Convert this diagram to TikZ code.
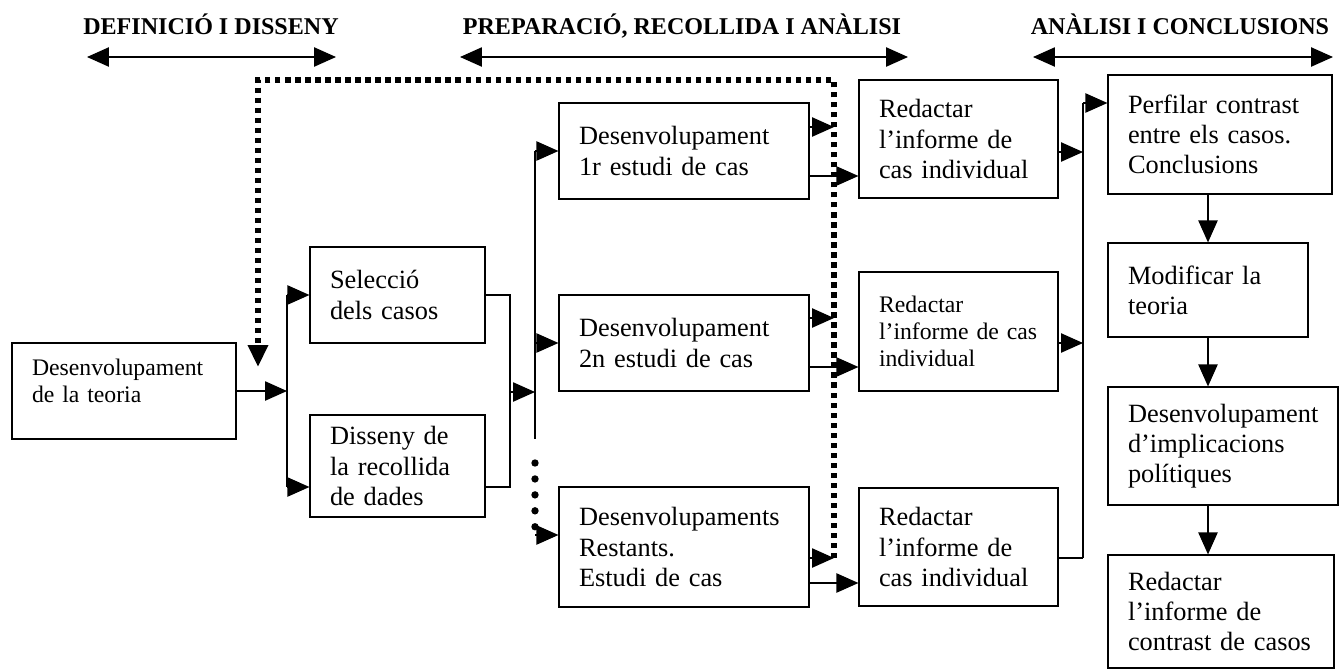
\documentclass[tikz,border=0pt]{standalone}
\usepackage{fontspec}
\setmainfont{Liberation Serif}
\usetikzlibrary{arrows.meta}

\begin{document}
\begin{tikzpicture}[x=0.02cm, y=-0.02cm,
    >={Triangle[length=12.5pt, width=11pt]},
    stage/.style={draw, rectangle, line width=0.7pt, align=left, inner xsep=0.4cm, inner ysep=0pt, font=\fontsize{15}{17.2}\selectfont},
    small/.style={font=\fontsize{13.5}{15.5}\selectfont},
    head/.style={anchor=base, font=\bfseries\fontsize{13.7}{16}\selectfont},
    link/.style={line width=0.7pt},
    back/.style={line width=3pt, dash pattern=on 3pt off 2.7pt},
    dots/.style={line width=4.2pt, line cap=round, dash pattern=on 0pt off 9.07pt}]
  \useasboundingbox (0,0) rectangle (1340,670);

  \node[head] (hdef) at (211,34) {DEFINICIÓ I DISSENY};
  \node[head] (hprep) at (682,34) {PREPARACIÓ, RECOLLIDA I ANÀLISI};
  \node[head] (hconc) at (1180,34) {ANÀLISI I CONCLUSIONS};
  \coordinate (hdefl) at (87,57);
  \coordinate (hdefr) at (336,57);
  \coordinate (hprepl) at (460,57);
  \coordinate (hprepr) at (908,57);
  \coordinate (hconcl) at (1033,57);
  \coordinate (hconcr) at (1333,57);
  \draw[link, <->] (hdefl) -- (hdefr);
  \draw[link, <->] (hprepl) -- (hprepr);
  \draw[link, <->] (hconcl) -- (hconcr);

  \node[stage, small, text width=3.68cm, minimum height=1.92cm] (teoria) at (124,391) {Desenvolupament\\de la teoria\\[-4pt]\mbox{}};
  \node[stage, text width=2.7cm, minimum height=1.92cm] (sel) at (397.5,295) {Selecció\\dels casos};
  \node[stage, text width=2.7cm, minimum height=2.04cm] (dis) at (397.5,466) {Disseny de\\la recollida\\de dades};
  \node[stage, text width=4.2cm, minimum height=1.92cm] (cas1) at (684,151) {Desenvolupament\\1r estudi de cas};
  \node[stage, text width=4.2cm, minimum height=1.92cm] (cas2) at (684,343) {Desenvolupament\\2n estudi de cas};
  \node[stage, text width=4.2cm, minimum height=2.4cm] (cas3) at (684,547) {Desenvolupaments\\Restants.\\Estudi de cas};
  \node[stage, text width=3.18cm, minimum height=2.36cm] (inf1) at (958.5,139) {Redactar\\l’informe de\\cas individual};
  \node[stage, small, text width=3.18cm, minimum height=2.38cm] (inf2) at (958.5,331.5) {Redactar\\l’informe de cas\\individual};
  \node[stage, text width=3.18cm, minimum height=2.36cm] (inf3) at (958.5,547) {Redactar\\l’informe de\\cas individual};
  \node[stage, text width=3.68cm, minimum height=2.38cm] (contr) at (1220,134.5) {Perfilar contrast\\entre els casos.\\Conclusions};
  \node[stage, text width=3.2cm, minimum height=1.88cm] (modif) at (1208,290) {Modificar la\\teoria};
  \node[stage, text width=3.8cm, minimum height=2.36cm] (impl) at (1223,446) {Desenvolupament\\d’implicacions\\polítiques};
  \node[stage, text width=3.72cm, minimum height=2.26cm] (final) at (1221,611.5) {Redactar\\l’informe de\\contrast de casos};

  \coordinate (s1) at (287,391);
  \coordinate (s1t) at (287,295);
  \coordinate (s1b) at (287,487);
  \draw[link, ->] (teoria.east |- s1) -- (s1);
  \draw[link] (s1t) -- (s1b);
  \draw[link, ->] (s1t) -- (sel);
  \draw[link, ->] (s1b) -- (s1b -| dis.west);

  \coordinate (s2) at (510,392);
  \coordinate (s3) at (535,392);
  \draw[link] (sel) -| (s2);
  \draw[link] (s1b -| dis.east) -| (s2);
  \draw[link, ->] (s2) -- (s3);

  \coordinate (s3t) at (535,151);
  \coordinate (s3b) at (535,439);
  \coordinate (d1) at (535,463);
  \coordinate (d2) at (535,528);
  \coordinate (s3d) at (535,535);
  \draw[link] (s3t) -- (s3b);
  \draw[link, ->] (s3t) -- (cas1);
  \draw[link, ->] (s3t |- cas2) -- (cas2);
  \draw[dots] (d1) -- (d2);
  \draw[link, ->] (s3d) -- (s3d -| cas3.west);

  \coordinate (fb1) at (834,127);
  \coordinate (fb2) at (834,318);
  \coordinate (fb3) at (834,558);
  \coordinate (fbtr) at (834,80);
  \coordinate (fbtl) at (258,80);
  \coordinate (fbl) at (258,367);
  \draw[back, ->] (fb3) -- (fbtr) -- (fbtl) -- (fbl);
  \draw[link, ->] (cas1.east |- fb1) -- (fb1);
  \draw[link, ->] (cas2.east |- fb2) -- (fb2);
  \draw[link, ->] (cas3.east |- fb3) -- (fb3);

  \coordinate (o1) at (834,176);
  \coordinate (o2) at (834,367);
  \coordinate (o3) at (834,583);
  \draw[link, ->] (cas1.east |- o1) -- (inf1.west |- o1);
  \draw[link, ->] (cas2.east |- o2) -- (inf2.west |- o2);
  \draw[link, ->] (cas3.east |- o3) -- (inf3.west |- o3);

  \coordinate (mt) at (1083,103);
  \coordinate (m1) at (1083,152);
  \coordinate (m2) at (1083,343);
  \coordinate (mb) at (1083,558);
  \draw[link] (mt) -- (mb);
  \draw[link, ->] (inf1.east |- m1) -- (m1);
  \draw[link, ->] (inf2.east |- m2) -- (m2);
  \draw[link] (inf3.east |- mb) -- (mb);
  \draw[link, ->] (mt) -- (mt -| contr.west);

  \draw[link, ->] (contr.south -| modif) -- (modif);
  \draw[link, ->] (modif) -- (modif.south |- impl.north);
  \draw[link, ->] (impl.south -| modif) -- (final.north -| modif);
\end{tikzpicture}
\end{document}
